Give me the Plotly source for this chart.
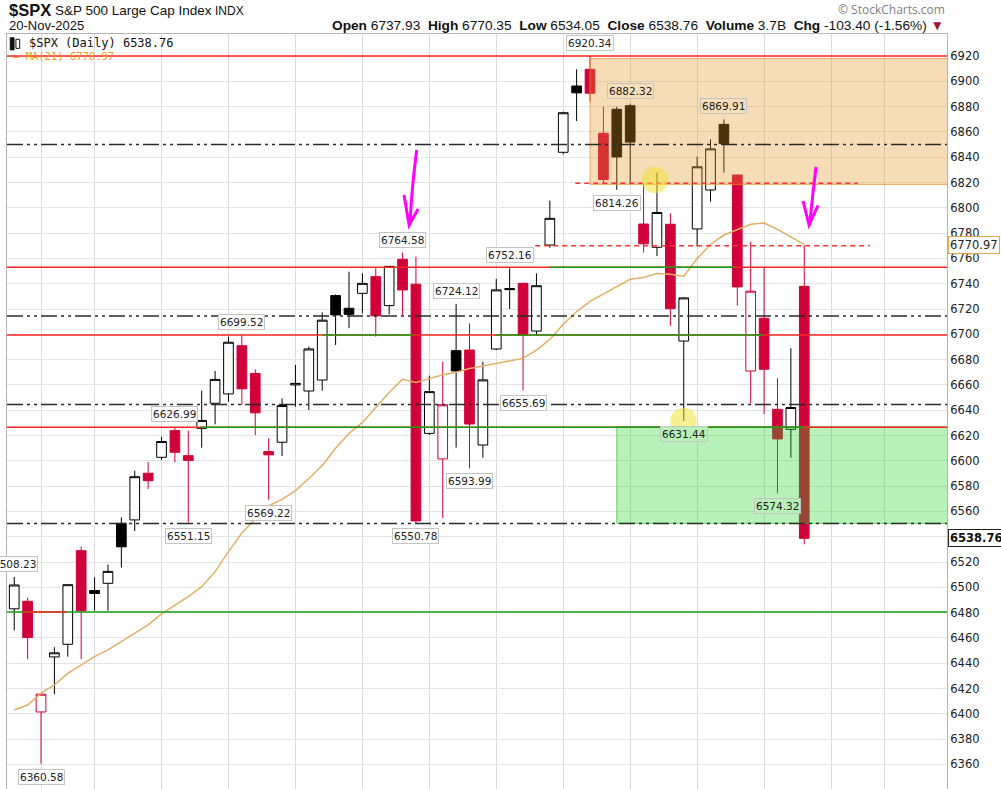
import plotly.graph_objects as go

# --- daily $SPX candles, 28-Aug-2025 .. 20-Nov-2025 ---
dates = [
    "2025-08-28", "2025-08-29", "2025-09-02", "2025-09-03", "2025-09-04", "2025-09-05",
    "2025-09-08", "2025-09-09", "2025-09-10", "2025-09-11", "2025-09-12",
    "2025-09-15", "2025-09-16", "2025-09-17", "2025-09-18", "2025-09-19",
    "2025-09-22", "2025-09-23", "2025-09-24", "2025-09-25", "2025-09-26",
    "2025-09-29", "2025-09-30", "2025-10-01", "2025-10-02", "2025-10-03",
    "2025-10-06", "2025-10-07", "2025-10-08", "2025-10-09", "2025-10-10",
    "2025-10-13", "2025-10-14", "2025-10-15", "2025-10-16", "2025-10-17",
    "2025-10-20", "2025-10-21", "2025-10-22", "2025-10-23", "2025-10-24",
    "2025-10-27", "2025-10-28", "2025-10-29", "2025-10-30", "2025-10-31",
    "2025-11-03", "2025-11-04", "2025-11-05", "2025-11-06", "2025-11-07",
    "2025-11-10", "2025-11-11", "2025-11-12", "2025-11-13", "2025-11-14",
    "2025-11-17", "2025-11-18", "2025-11-19", "2025-11-20",
]
future_dates = ["2025-11-21", "2025-11-24", "2025-11-25", "2025-11-26", "2025-11-28",
                "2025-12-01", "2025-12-02", "2025-12-03", "2025-12-04", "2025-12-05"]
week_starts = ["2025-09-02", "2025-09-08", "2025-09-15", "2025-09-22", "2025-09-29",
               "2025-10-06", "2025-10-13", "2025-10-20", "2025-10-27", "2025-11-03",
               "2025-11-10", "2025-11-17", "2025-11-24", "2025-12-01"]

opens = [6483.0, 6489.0, 6401.5, 6445.0, 6455.0, 6529.0, 6497.5, 6503.2, 6550.6, 6553.3,
         6590.2, 6602.8, 6623.9, 6604.1, 6625.7, 6645.5, 6652.9, 6691.0, 6669.1, 6607.3,
         6614.7, 6660.0, 6655.2, 6663.9, 6730.6, 6720.6, 6732.4, 6745.6, 6722.7, 6759.3,
         6739.6, 6621.7, 6601.5, 6687.1, 6687.6, 6612.5, 6688.4, 6736.2, 6740.3, 6702.6,
         6770.6, 6843.9, 6896.3, 6909.5, 6858.9, 6877.9, 6880.7, 6787.2, 6768.8, 6787.0,
         6694.7, 6783.3, 6814.1, 6866.0, 6825.9, 6671.0, 6712.7, 6640.7, 6624.9, 6737.93]
highs = [6508.23, 6492.0, 6416.0, 6452.6, 6502.5, 6532.2, 6508.0, 6518.0, 6555.4, 6592.2,
         6599.1, 6619.1, 6626.99, 6623.9, 6655.5, 6671.0, 6698.2, 6699.52, 6672.3, 6617.8,
         6649.4, 6675.8, 6690.3, 6717.4, 6731.5, 6749.5, 6748.2, 6752.2, 6754.0, 6764.58,
         6761.4, 6667.3, 6678.4, 6724.12, 6708.7, 6678.4, 6743.8, 6752.16, 6741.0, 6748.2,
         6805.6, 6876.0, 6909.5, 6920.34, 6880.0, 6880.0, 6882.32, 6818.8, 6827.8, 6795.7,
         6729.5, 6840.4, 6854.2, 6869.91, 6826.5, 6773.2, 6752.7, 6665.3, 6689.0, 6770.35]
lows = [6466.0, 6443.0, 6360.58, 6415.5, 6445.2, 6443.2, 6481.6, 6481.6, 6515.6, 6544.6,
        6577.8, 6600.7, 6598.9, 6551.15, 6610.4, 6628.9, 6646.8, 6644.2, 6620.4, 6569.22,
        6603.8, 6642.8, 6640.2, 6655.5, 6691.6, 6704.8, 6716.6, 6698.2, 6715.8, 6714.7,
        6550.78, 6620.4, 6554.8, 6610.4, 6593.99, 6602.5, 6687.5, 6720.0, 6655.69, 6698.7,
        6768.5, 6842.3, 6868.6, 6884.0, 6819.4, 6814.26, 6818.8, 6764.8, 6761.9, 6706.6,
        6631.44, 6769.3, 6804.9, 6827.8, 6722.7, 6645.5, 6637.0, 6574.32, 6602.5, 6534.05]
closes = [6501.86, 6460.26, 6415.54, 6448.26, 6502.08, 6481.50, 6495.15, 6512.61, 6532.04, 6587.47,
          6584.29, 6615.28, 6606.76, 6600.35, 6631.96, 6664.36, 6693.75, 6656.92, 6637.97, 6604.72,
          6643.70, 6661.21, 6688.46, 6711.20, 6715.35, 6715.79, 6740.28, 6714.59, 6753.72, 6735.11,
          6552.51, 6654.72, 6644.31, 6671.06, 6629.07, 6664.01, 6735.13, 6735.35, 6699.40, 6738.44,
          6791.69, 6875.16, 6890.89, 6890.59, 6822.34, 6840.20, 6851.97, 6771.55, 6796.29, 6720.32,
          6728.80, 6832.43, 6846.61, 6850.92, 6737.49, 6734.11, 6672.41, 6617.32, 6642.16, 6538.76]
prior_close = 6481.40
ma21 = [6403.0, 6407.0, 6416.3, 6422.8, 6432.0, 6438.6, 6445.2, 6450.5, 6457.0, 6464.2,
        6470.3, 6479.0, 6486.0, 6492.7, 6500.5, 6512.4, 6528.2, 6543.0, 6554.0, 6564.5,
        6569.5, 6576.5, 6586.0, 6596.3, 6610.0, 6621.6, 6630.4, 6642.0, 6654.0, 6664.5,
        6662.0, 6665.0, 6668.0, 6670.0, 6673.0, 6675.0, 6677.0, 6678.5, 6681.0, 6687.6,
        6696.0, 6708.0, 6718.0, 6726.0, 6732.0, 6738.0, 6743.5, 6745.0, 6748.0, 6747.5,
        6746.0, 6760.0, 6771.0, 6778.5, 6782.5, 6787.0, 6788.0, 6783.0, 6777.0, 6770.97]

# drawn support / resistance levels
red_levels = [6920.0, 6753.0, 6699.5, 6626.5]
dashdot_levels = [6850.0, 6714.5, 6644.5, 6550.5]
green_levels = [6480.5]
green_segments = [(6753.0, 40.0, 53.8), (6699.5, 23.0, 29.8), (6699.5, 35.9, 55.9),
                  (6626.5, 13.9, 58.9)]
red_segments = [(6480.5, 0.7, 3.9)]
dashed_red = [(6819.5, 41.9, 63.0), (6770.0, 38.9, 63.9)]
orange_zone = (43, 6818.5, 6918.0)
green_zone = (45, 6550.6, 6627.0)

# price callouts: (candle index, price, above/below)
callouts = [(0, 6508.23, "hi"), (2, 6360.58, "lo"), (12, 6626.99, "hi"), (13, 6551.15, "lo"),
            (17, 6699.52, "hi"), (19, 6569.22, "lo"), (29, 6764.58, "hi"), (30, 6550.78, "lo"),
            (33, 6724.12, "hi"), (34, 6593.99, "lo"), (37, 6752.16, "hi"), (38, 6655.69, "lo"),
            (43, 6920.34, "hi"), (46, 6882.32, "hi"), (45, 6814.26, "lo"), (53, 6869.91, "hi"),
            (50, 6631.44, "lo"), (57, 6574.32, "lo")]

RED = "#D0003A"
prev = [prior_close] + closes[:-1]
up = [c >= p for c, p in zip(closes, prev)]

fig = go.Figure()
for flag, col in ((True, "#000000"), (False, RED)):
    sel = [i for i in range(len(dates)) if up[i] == flag]
    fig.add_trace(go.Candlestick(
        x=[dates[i] for i in sel],
        open=[opens[i] for i in sel], high=[highs[i] for i in sel],
        low=[lows[i] for i in sel], close=[closes[i] for i in sel],
        increasing=dict(line=dict(color=col, width=1), fillcolor="white"),
        decreasing=dict(line=dict(color=col, width=1), fillcolor=col),
        whiskerwidth=0, showlegend=False))

fig.add_trace(go.Scatter(x=dates, y=ma21, mode="lines",
                         line=dict(color="#E2B065", width=1.5), showlegend=False))

shapes = []


def hline(y, color, x0=None, x1=None, dash="solid", width=1.5):
    if x0 is None:
        xr, x0, x1 = "paper", 0, 1
    else:
        xr = "x"
    return dict(type="line", xref=xr, yref="y", x0=x0, x1=x1, y0=y, y1=y,
                line=dict(color=color, width=width, dash=dash), layer="above")


# zones
shapes.append(dict(type="rect", xref="x", yref="y", x0=orange_zone[0], x1=70.0,
                   y0=orange_zone[1], y1=orange_zone[2],
                   fillcolor="rgba(232,150,40,0.33)",
                   line=dict(color="rgba(240,140,40,0.7)", width=1), layer="above"))
shapes.append(dict(type="rect", xref="x", yref="y", x0=green_zone[0], x1=70.0,
                   y0=green_zone[1], y1=green_zone[2],
                   fillcolor="rgba(40,215,40,0.33)",
                   line=dict(color="rgba(40,200,40,0.7)", width=1), layer="above"))

for v in red_levels:
    shapes.append(hline(v, "#FF2424"))
for v in green_levels:
    shapes.append(hline(v, "#179E17"))
for v, a, b in green_segments:
    shapes.append(hline(v, "#179E17", a, b))
for v, a, b in red_segments:
    shapes.append(hline(v, "#FF2424", a, b))
for v, a, b in dashed_red:
    shapes.append(hline(v, "#FF3333", a, b, dash="5px,4px"))
for v in dashdot_levels:
    shapes.append(hline(v, "#2a2a2a", dash="16px,4px,3px,4px,3px,4px"))

# highlight circles
for cx, cy in ((47.86, 6822.0), (49.98, 6631.5)):
    shapes.append(dict(type="circle", xref="x", yref="y", x0=cx - 0.99, x1=cx + 0.99,
                       y0=cy - 10.5, y1=cy + 10.5, fillcolor="rgba(240,228,40,0.5)",
                       line=dict(width=0), layer="above"))

# hand-drawn magenta arrows
for p in ("M 30.06,6845.7 C 29.86,6829.9 29.63,6806.2 29.56,6786.4 "
          "M 29.11,6810.1 L 29.49,6786.4 L 30.16,6799.1",
          "M 59.88,6832.3 C 59.73,6818.0 59.51,6802.2 59.43,6786.4 "
          "M 58.91,6805.4 L 59.36,6786.4 L 60.03,6802.0"):
    shapes.append(dict(type="path", xref="x", yref="y", path=p,
                       line=dict(color="#FF00FF", width=3), layer="above"))

# small candle icon in front of the legend text
for x0, x1, y0, y1, fill in ((0.0035, 0.0075, 0.979, 0.995, "#111"),
                             (0.0095, 0.0135, 0.981, 0.993, "white")):
    shapes.append(dict(type="rect", xref="paper", yref="paper", x0=x0, x1=x1, y0=y0, y1=y1,
                       fillcolor=fill, line=dict(color="#111", width=1), layer="above"))

annotations = []


def tint(i, v, side):
    if i >= orange_zone[0] and orange_zone[1] <= v <= orange_zone[2] - 5:
        return "#F7DDB8"
    if i >= green_zone[0] and green_zone[1] - 15 <= v <= green_zone[2] + 5 and side == "lo":
        return "#B8F0B8"
    return "white"


for i, v, side in callouts:
    annotations.append(dict(
        x=dates[i], y=v, xref="x", yref="y", text=f"{v:.2f}", showarrow=False,
        yanchor="bottom" if side == "hi" else "top", yshift=5 if side == "hi" else -5,
        font=dict(family="DejaVu Sans", size=10.5, color="#222"),
        bgcolor=tint(i, v, side), bordercolor="#c4c4c4", borderwidth=1, borderpad=1))

# right axis tags
annotations.append(dict(x=1, xref="paper", y=ma21[-1], yref="y", xanchor="left", xshift=1,
                        text=f"{ma21[-1]:.2f}", showarrow=False,
                        font=dict(family="DejaVu Sans", size=11.5, color="#222"),
                        bgcolor="white", bordercolor="#E0A850", borderwidth=1, borderpad=1))
annotations.append(dict(x=1, xref="paper", y=closes[-1], yref="y", xanchor="left", xshift=1,
                        text=f"<b>{closes[-1]:.2f}</b>", showarrow=False,
                        font=dict(family="DejaVu Sans", size=11.5, color="#111"),
                        bgcolor="white", bordercolor="#222", borderwidth=1, borderpad=1))

# legend texts inside plot
annotations.append(dict(x=0.0213, y=0.988, xref="paper", yref="paper", xanchor="left",
                        yanchor="middle", showarrow=False,
                        text=f"$SPX (Daily) {closes[-1]:.2f}",
                        font=dict(family="DejaVu Sans Mono", size=12, color="#111")))
annotations.append(dict(x=0.004, y=0.9702, xref="paper", yref="paper", xanchor="left",
                        yanchor="middle", showarrow=False,
                        text=f"— MA(21) {ma21[-1]:.2f}",
                        font=dict(family="DejaVu Sans Mono", size=10.5, color="#E89A20")))

# header
hdr = "Liberation Sans"
annotations += [
    dict(x=0, y=1.0318, text="<b>$SPX</b>", font=dict(family=hdr, size=16.5, color="#111")),
    dict(x=0.0489, y=1.0305, text="S&P 500 Large Cap Index",
         font=dict(family=hdr, size=13.5, color="#111")),
    dict(x=0.219, y=1.0300, text="INDX", font=dict(family=hdr, size=12, color="#111")),
    dict(x=0, y=1.0111, text="20-Nov-2025", font=dict(family=hdr, size=13, color="#111")),
]
for a in annotations[-4:]:
    a.update(xref="paper", yref="paper", xanchor="left", yanchor="middle", showarrow=False)

ohlc = (f"<b>Open</b> {opens[-1]:.2f}  <b>High</b> {highs[-1]:.2f}  "
        f"<b>Low</b> {lows[-1]:.2f}  <b>Close</b> {closes[-1]:.2f}  "
        f"<b>Volume</b> 3.7B  <b>Chg</b> {closes[-1] - closes[-2]:.2f} "
        f"({(closes[-1] / closes[-2] - 1) * 100:.2f}%) "
        "<span style='color:#A0103C'>▼</span>")
annotations.append(dict(x=0.999, y=1.0113, xref="paper", yref="paper", xanchor="right",
                        yanchor="middle", showarrow=False, text=ohlc,
                        font=dict(family=hdr, size=13.7, color="#111")))
annotations.append(dict(x=1.0, y=1.0318, xref="paper", yref="paper", xanchor="right",
                        yanchor="middle", showarrow=False, text="© StockCharts.com",
                        font=dict(family="Open Sans", size=12, color="#808080")))

fig.update_layout(
    width=1001, height=789,
    margin=dict(l=7, r=54, t=34, b=0),
    paper_bgcolor="white", plot_bgcolor="white",
    showlegend=False, boxmode="overlay", boxgap=0.15, boxgroupgap=0.15,
    font=dict(family="DejaVu Sans", color="#222"),
    shapes=shapes, annotations=annotations,
    hovermode=False,
)
fig.update_xaxes(type="category", categoryorder="array",
                 categoryarray=dates + future_dates,
                 range=[-0.54, 69.66], tickvals=week_starts, showticklabels=False,
                 showgrid=True, gridcolor="#dcdcdc", gridwidth=1,
                 showline=True, mirror=True, linecolor="#b4b4b4",
                 rangeslider=dict(visible=False), zeroline=False)
fig.update_yaxes(side="right", range=[6340.6, 6937.4], dtick=20, tick0=0,
                 showgrid=True, gridcolor="#e4e4e4", gridwidth=1,
                 showline=True, mirror=True, linecolor="#b4b4b4", ticks="",
                 tickfont=dict(family="DejaVu Sans", size=11.5, color="#222"),
                 zeroline=False)

fig.write_html("out.html", config={"displayModeBar": False},
               post_script="document.body.style.margin='0';")
